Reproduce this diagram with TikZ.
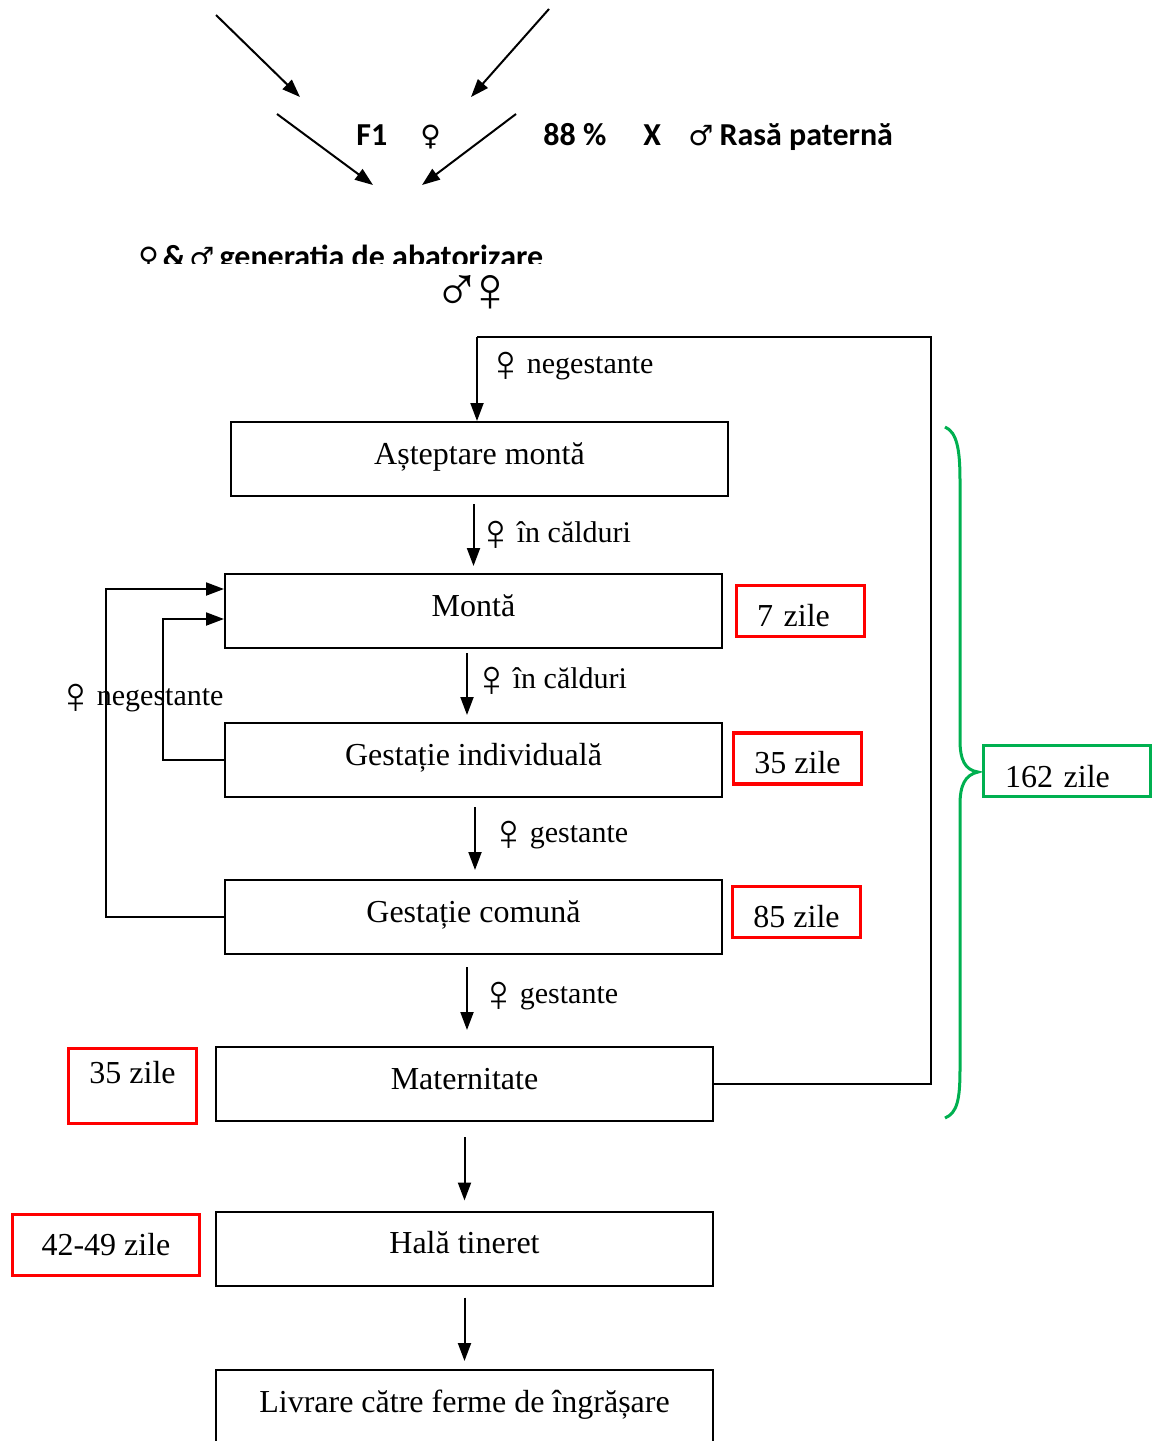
\documentclass[tikz,border=0pt]{standalone}
\usepackage{fontspec}
\setmainfont{Liberation Serif}
\newfontfamily\calibri{Carlito}
\newfontfamily\symb{DejaVu Sans}
\usetikzlibrary{arrows.meta}

\definecolor{zgreen}{RGB}{0,176,80}
\definecolor{zred}{RGB}{255,0,0}

\newcommand{\fem}{\kern-5pt\raisebox{-4.3pt}{\fontsize{26}{26}\selectfont ♀}\kern-3pt}
\newcommand{\bfem}{{\symb\bfseries\fontsize{14}{14}\selectfont ♀}}
\newcommand{\bmal}{{\symb\bfseries\fontsize{14}{14}\selectfont ♂}}

\tikzset{
  box/.style={draw, line width=1pt, minimum width=248.5pt, minimum height=37pt, inner sep=0pt, font=\fontsize{16}{19}\selectfont, text height=12pt, text depth=7pt},
  zile/.style={draw=zred, line width=1.75pt, minimum width=64pt, minimum height=25.5pt, inner sep=0pt, font=\fontsize{16}{19}\selectfont},
  lbl/.style={anchor=base west, inner sep=0pt, font=\fontsize{15}{18}\selectfont},
  hd/.style={anchor=base west, inner sep=0pt, font=\calibri\bfseries\fontsize{16}{19}\selectfont},
  arr/.style={line width=1pt, -{Triangle[length=9pt, width=6.5pt]}},
  feed/.style={line width=1pt},
}

\begin{document}
\begin{tikzpicture}[x=0.5pt, y=-0.5pt]
\useasboundingbox (0,0) rectangle (1154,1441);

\node [hd] (f1) at (356,145) {F1};
\node [hd] (fem) at (420,145) {\bfem};
\node [hd] (pct) at (543,145) {88 \%};
\node [hd] (x) at (643,145) {X};
\node [hd] (rasa) at (688,145) {\bmal\kern3pt Rasă paternă};

\coordinate (a1) at (216,15);
\coordinate (a2) at (300,97);
\coordinate (a3) at (549,9);
\coordinate (a4) at (471,97);
\coordinate (a5) at (277,114);
\coordinate (a6) at (373,185);
\coordinate (a7) at (516,114);
\coordinate (a8) at (422,185);

\draw [arr] (a1) -- (a2);
\draw [arr] (a3) -- (a4);
\draw [arr] (a5) -- (a6);
\draw [arr] (a7) -- (a8);

\begin{scope}
\clip (0,0) rectangle (1154,263);
\node [hd, text depth=0pt] (gen) at (138,267) {\bfem\kern2pt\&\kern2pt\bmal\kern2.5pt generatia de abatorizare};
\end{scope}
\node [anchor=base west, inner sep=0pt, text height=15pt, text depth=1pt, font=\fontsize{32}{32}\selectfont] (sex) at (433,311) {♂\kern-7.5pt ♀};

\node [box] (b1) at (479.5,459) {Așteptare montă};
\node [box] (b2) at (473.5,611) {Montă};
\node [box] (b3) at (473.5,760) {Gestație individuală};
\node [box] (b4) at (473.5,917) {Gestație comună};
\node [box] (b5) at (464.5,1084) {Maternitate};
\node [box] (b6) at (464.5,1248.5) {Hală tineret};
\node [box] (b7) at (464.5,1407) {Livrare către ferme de îngrășare};

\node [zile, text height=17pt, text depth=2pt, text width=43.5pt, align=left] (r1) at (800.5,611) {7 zile};
\node [zile, text height=17pt, text depth=2pt] (r2) at (797.5,758.5) {35 zile};
\node [zile, text height=17pt, text depth=2pt] (r3) at (796.5,912) {85 zile};
\node [zile, minimum height=37.5pt, text height=8pt, text depth=11pt] (r4) at (132.5,1086) {35 zile};
\node [zile, minimum width=93.5pt, minimum height=30.5pt, text height=12pt, text depth=2pt] (r5) at (106,1245) {42-49 zile};

\node [draw=zgreen, line width=1.5pt, minimum width=83.5pt, minimum height=25.5pt, inner sep=0pt, text width=62pt, align=left, font=\fontsize{16}{19}\selectfont, text height=17pt, text depth=1pt] (g1) at (1067,771) {162 zile};

\draw [zgreen, line width=1.5pt] (945,427) .. controls (957,432) and (960,450) .. (960,480) -- (960,740) .. controls (960,760) and (965,770) .. (978,772) .. controls (965,775) and (960,785) .. (960,805) -- (960,1070) .. controls (960,1100) and (957,1113) .. (945,1118);

\node [lbl] (l1) at (496,373) {\fem{} negestante};
\node [lbl] (l2) at (486,542) {\fem{} în călduri};
\node [lbl] (l3) at (482,688) {\fem{} în călduri};
\node [lbl] (l4) at (499,842) {\fem{} gestante};
\node [lbl] (l5) at (489,1003) {\fem{} gestante};
\node [lbl] (l6) at (66,705) {\fem{} negestante};

\coordinate (top) at (477,337);
\coordinate (rt) at (931,337);
\draw [feed] (b5.east) -| (rt) -- (top);
\draw [arr] (top) -- (top |- b1.north);

\draw [arr, shorten <=3.5pt, shorten >=3.5pt] (b1.south -| b2.north) -- (b2.north);
\draw [arr, shorten <=2pt, shorten >=3.5pt] ([xshift=-3.25pt]b2.south) -- ([xshift=-3.25pt]b3.north);
\draw [arr, shorten <=4.5pt, shorten >=4.5pt] ([xshift=0.75pt]b3.south) -- ([xshift=0.75pt]b4.north);
\draw [arr, shorten <=6pt, shorten >=8pt] ([xshift=-3.25pt]b4.south) -- ([xshift=-3.25pt]b4.south |- b5.north);
\draw [arr, shorten <=7.5pt, shorten >=5pt] (b5.south) -- (b6.north);
\draw [arr, shorten <=5.5pt, shorten >=4pt] (b6.south) -- (b7.north);

\draw [arr] (b4.west) -- ++(-118,0) |- ([yshift=11pt]b2.west);
\draw [arr] (b3.west) -- ++(-61,0) |- ([yshift=-4pt]b2.west);
\end{tikzpicture}
\end{document}
